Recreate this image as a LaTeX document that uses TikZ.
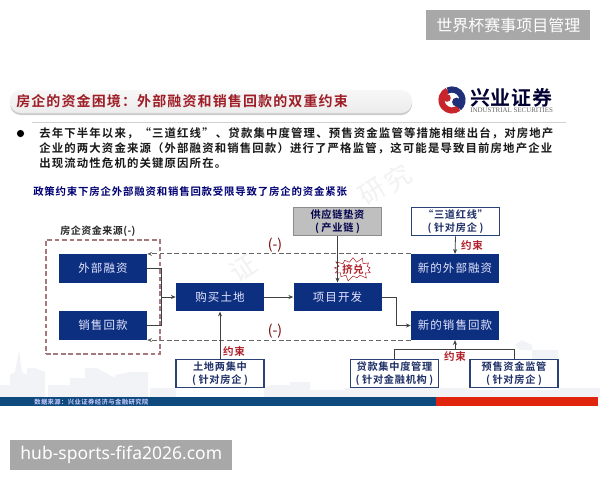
\documentclass[tikz,border=0pt]{standalone}
\usepackage{fontspec}
\usetikzlibrary{arrows.meta,shapes.symbols,calc}
\setmainfont{Noto Sans CJK SC}[BoldFont={Noto Sans CJK SC Bold}]
\newfontfamily\latinser{Liberation Serif}
\newfontfamily\wmfont{Noto Sans}
\newcommand\fpx[2]{\fontsize{\dimexpr#2pt*3/4\relax}{\dimexpr#2pt*15/16\relax}\selectfont\addfontfeature{LetterSpace=#1}}
\newcommand\zcomma{\char"FF0C\relax}
\newcommand\zcolon{\char"FF1A\relax}
\newcommand\zlp{\char"FF08\relax}
\newcommand\zrp{\char"FF09\relax}
\definecolor{bluebox}{HTML}{0D2F80}
\definecolor{edgeblue}{HTML}{2A4178}
\definecolor{textblue}{HTML}{1E2F66}
\definecolor{redtxt}{HTML}{B0202A}
\definecolor{dash}{HTML}{666666}
\definecolor{pinkdash}{HTML}{A8797C}
\definecolor{wmgrey}{HTML}{A8A8A8}
\definecolor{city}{HTML}{F1F3F6}
\definecolor{footblue}{HTML}{0F4A7E}
\definecolor{footred}{HTML}{E0240E}
\definecolor{logored}{HTML}{C8242C}
\definecolor{logoblue}{HTML}{1F2F78}
\tikzset{
  x=0.75pt,y=-0.75pt,
  bluebox/.style={fill=bluebox,draw=none,text=white!90!blue,font=\fpx{9}{11.5},minimum width=66pt,minimum height=21.5pt,inner sep=0pt},
  whitebox/.style={fill=white,draw=edgeblue,line width=0.8pt,text=textblue,font=\bfseries\fpx{7}{10.2},minimum width=66pt,minimum height=21.5pt,inner sep=0pt,align=center},
  greybox/.style={whitebox,fill=gray!50!white,draw=gray!90!white,text=black!70!blue},
  conn/.style={draw=black!75,line width=0.6pt},
  arr/.style={conn,-{Stealth[length=3.6pt,width=3pt]}},
  dashconn/.style={draw=dash,line width=0.7pt,dash pattern=on 3.6pt off 2pt},
  limit/.style={text=redtxt,font=\bfseries\fpx{7}{10.5},inner sep=0pt},
  minus/.style={text=red!45!black,font=\fpx{0}{14},inner sep=0pt},
  wmbox/.style={fill=wmgrey,text=white,inner sep=0pt,minimum height=22.5pt},
  faintchar/.style={rotate=33,text=black!5,font=\fpx{0}{26},inner sep=0pt},
}
\begin{document}
\begin{tikzpicture}
\useasboundingbox (0,0) rectangle (600,480);
\fill[white] (0,0) rectangle (600,480);
% skyline
\fill[city] (0,397)--(0,385)--(10,385)--(10,375)--(15,372)--(19,350)--(22,372)--(27,375)--(27,368)--(35,368)--(45,372)--(45,397)--cycle;
\fill[city] (48,397)--(48,385)--(70,385)--(70,378)--(85,378)--(85,368)--(97,368)--(115,378)--(115,375)--(130,372)--(148,372)--(148,397)--cycle;
\fill[city] (150,397)--(150,388)--(176,388)--(176,397)--cycle;
\fill[city] (264,397)--(264,388)--(272,385)--(290,385)--(290,382)--(310,382)--(310,390)--(345,390)--(345,397)--cycle;
\fill[city] (558,397)--(558,350)--(520,350)--(515,345)--(522,340)--(532,345)--(532,388)--(600,388)--(600,397)--cycle;
\fill[city] (345,388) rectangle (470,397);
\fill[city] (440,390) rectangle (558,397);
% faint diagonal mark
\node[faintchar] (f1) at (243,268) {证};
\node[faintchar] (f3) at (372,192) {研};
\node[faintchar] (f4) at (398,178) {究};
% title bar
\fill[gray!40!white,rounded corners=8pt] (10,92.5) rectangle (412,115);
\shade[top color=gray!6,bottom color=gray!15,rounded corners=8pt] (10,90) rectangle (412,113);
\node[anchor=west,text=redtxt!90!black,font=\bfseries\fpx{8}{14},inner sep=0pt] (title) at (16,101) {房企的资金困境\zcolon 外部融资和销售回款的双重约束};
% logo
\draw[logored,line width=4.6pt] (452,100) ++(50:10.5) arc[start angle=50,end angle=245,radius=10.5];
\draw[logoblue,line width=4.6pt] (452,100) ++(245:10.5) arc[start angle=245,end angle=410,radius=10.5];
\fill[logored] (447,98) circle (3.8);
\fill[logoblue] (456.5,102) circle (4.4);
\node[anchor=west,text=black!80!blue,font=\bfseries\fpx{3}{20},inner sep=0pt] (logotxt) at (470,98) {兴业证券};
\node[anchor=west,text=black!60,font=\latinser\fontsize{5.2pt}{6pt}\selectfont,inner sep=0pt] (logoen) at (470,110.5) {INDUSTRIAL SECURITIES};
\draw[black!18,line width=0.5pt] (32,122) -- (566,122);
% bullet text
\fill[black] (20.5,133.5) circle (3.6);
\node[anchor=west,font=\bfseries\fpx{10}{11.4},text=black!90,inner sep=0pt] (l1) at (39,133.5) {去年下半年以来\zcomma“三道红线”\hspace{.2em}、贷款集中度管理、预售资金监管等措施相继出台\zcomma 对房地产};
\node[anchor=west,font=\bfseries\fpx{10}{11.4},text=black!90,inner sep=0pt] (l2) at (39,148.5) {企业的两大资金来源\zlp 外部融资和销售回款\zrp 进行了严格监管\zcomma 这可能是导致目前房地产企业};
\node[anchor=west,font=\bfseries\fpx{10}{11.4},text=black!90,inner sep=0pt] (l3) at (39,163) {出现流动性危机的关键原因所在。};
\node[anchor=west,font=\bfseries\fpx{8}{10.4},text=blue!45!black,inner sep=0pt] (sub) at (33,191.5) {政策约束下房企外部融资和销售回款受限导致了房企的资金紧张};
% sources frame
\node[draw=pinkdash,line width=0.8pt,dash pattern=on 3.6pt off 2pt,minimum width=85.5pt,minimum height=85.5pt,inner sep=0pt] (frame) at (103,297) {};
\node[anchor=west,font=\bfseries\fpx{5}{10},text=black!85,inner sep=0pt] (flabel) at (60,231.5) {房企资金来源(-)};
% blue boxes
\node[bluebox] (ext) at (103,268.5) {外部融资};
\node[bluebox] (sale) at (103,325.5) {销售回款};
\node[bluebox] (land) at (220,297) {购买土地};
\node[bluebox] (dev) at (337.5,297) {项目开发};
\node[bluebox] (newext) at (455,268.5) {新的外部融资};
\node[bluebox] (newsale) at (455,325.5) {新的销售回款};
% top and bottom boxes
\node[greybox] (chain) at (337.5,221.5) {供应链垫资\\(\hspace{.25em}产业链\hspace{.25em})};
\node[whitebox] (red) at (455.5,221.5) {“三道红线”\\(\hspace{.25em}针对房企\hspace{.25em})};
\node[whitebox] (two) at (220,373.5) {土地两集中\\(\hspace{.25em}针对房企\hspace{.25em})};
\node[whitebox] (loan) at (394.5,373.5) {贷款集中度管理\\(\hspace{.25em}针对金融机构\hspace{.25em})};
\node[whitebox] (pre) at (514,373.5) {预售资金监管\\(\hspace{.25em}针对房企\hspace{.25em})};
% connectors
\coordinate (j) at (161,297);
\draw[conn] (ext.east) -| (j);
\draw[conn] (sale.east) -| (j);
\draw[arr] (j) -- (land.west);
\draw[arr] (land.east) -- (dev.west);
\draw[arr] (dev.east) -- ++(15,0) |- (newsale.west);
\draw[dashconn,-{Stealth[length=3.6pt,width=3pt]}] (newext.north west) -- (ext.north east);
\draw[dashconn,-{Stealth[length=3.6pt,width=3pt]}] (newsale.south west) -- (sale.south east);
\node[minus] (m1) at (275,245) {(-)};
\node[minus] (m2) at (275,331) {(-)};
\node[starburst,starburst points=13,starburst point height=4.5pt,draw=redtxt,fill=white,line width=0.4pt,minimum width=30pt,minimum height=18pt,inner sep=0pt,text=redtxt,font=\bfseries\fpx{4}{10.5}] (burst) at (353,269) {挤兑};
\draw[arr] (chain.south) -- (dev.north);
\draw[arr] (red.south) -- (newext.north);
\draw[arr] (two.north) -- (land.south);
\coordinate (t) at (455,349.5);
\draw[conn] (loan.north) |- (t);
\draw[conn] (pre.north) |- (t);
\draw[arr] (t) -- (newsale.south);
\node[limit] (c1) at (472,246) {约束};
\node[limit] (c2) at (234,351) {约束};
\node[limit] (c3) at (455,356) {约束};
% footer
\fill[footblue] (0,397) rectangle (436,406);
\fill[footred] (436,397) rectangle (598,406);
\node[anchor=west,text=white!80!blue,font=\bfseries\fpx{7}{6.3},inner sep=0pt] (src) at (34,402) {数据来源\zcolon 兴业证券经济与金融研究院};
% stamps
\node[wmbox,anchor=north west,minimum width=123pt,font=\fpx{0}{16}] (brand) at (426,10) {世界杯赛事项目管理};
\node[wmbox,anchor=north west,minimum width=166.5pt,font=\wmfont\fpx{0}{17.5}] (site) at (10,440) {hub-sports-fifa2026.com};
\end{tikzpicture}
\end{document}
